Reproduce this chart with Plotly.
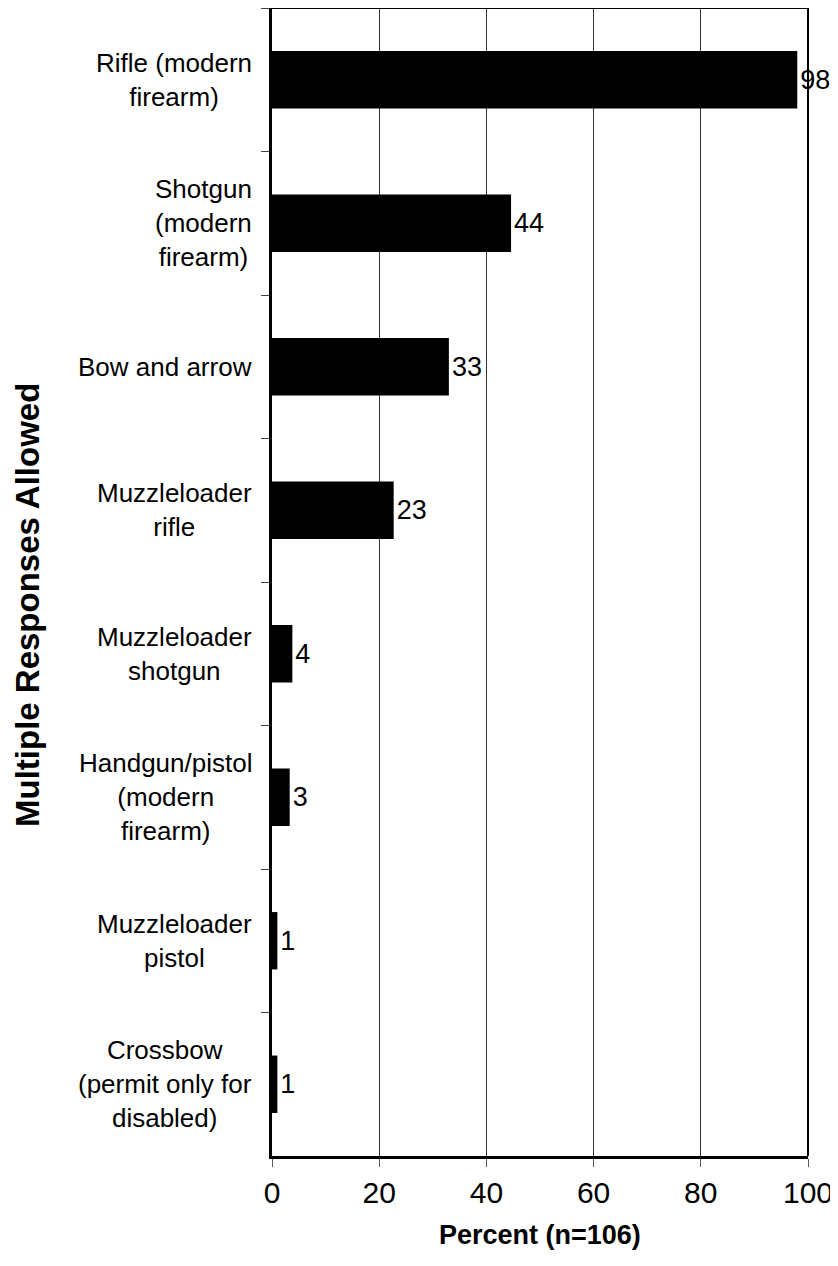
import plotly.graph_objects as go

categories = [
    "Rifle (modern<br>firearm)",
    "Shotgun<br>(modern<br>firearm)",
    "Bow and arrow",
    "Muzzleloader<br>rifle",
    "Muzzleloader<br>shotgun",
    "Handgun/pistol<br>(modern<br>firearm)",
    "Muzzleloader<br>pistol",
    "Crossbow<br>(permit only for<br>disabled)",
]
values = [98, 44.6, 33, 22.7, 3.8, 3.3, 1, 1]
value_labels = ["98", "44", "33", "23", "4", "3", "1", "1"]
x_ticks = [0, 20, 40, 60, 80, 100]
x_title = "Percent (n=106)"
y_title = "Multiple Responses Allowed"

FONT = "Liberation Sans, Arial, sans-serif"

# figure is placed inside the page body (8px default margin)
W, H = 830, 1258
L, R, T, B = 264, 30, 0, 110
plot_w = W - L - R
plot_h = H - T - B

fig = go.Figure()
fig.add_trace(go.Bar(
    x=values,
    y=categories,
    orientation="h",
    marker=dict(color="black", line=dict(width=0)),
    width=0.4,
    text=value_labels,
    textposition="outside",
    textfont=dict(family=FONT, size=27, color="black"),
    cliponaxis=False,
))

for c in categories:
    fig.add_annotation(
        x=0, xref="paper", y=c, yref="y",
        text=c, showarrow=False,
        xanchor="right", yanchor="middle", align="center",
        xshift=-18,
        font=dict(family=FONT, size=26, color="black"),
    )

# y-axis title
fig.add_annotation(
    x=(19 - L) / plot_w, xref="paper", y=1 - 597 / plot_h, yref="paper",
    text="<b>" + y_title + "</b>", showarrow=False, textangle=-90,
    xanchor="center", yanchor="middle",
    font=dict(family=FONT, size=33, color="black"),
)
# x-axis title
fig.add_annotation(
    x=0.5, xref="paper", y=-(1227 - plot_h) / plot_h, yref="paper",
    text="<b>" + x_title + "</b>", showarrow=False,
    xanchor="center", yanchor="middle",
    font=dict(family=FONT, size=27, color="black"),
)

# frame: top and right border
fig.add_shape(type="line", xref="paper", yref="paper", x0=0, x1=1, y0=1, y1=1,
              line=dict(color="black", width=2))
fig.add_shape(type="line", xref="paper", yref="paper", x0=1, x1=1, y0=0, y1=1,
              line=dict(color="black", width=2))

fig.update_layout(
    width=W, height=H,
    margin=dict(l=L, r=R, t=T, b=B, autoexpand=False),
    plot_bgcolor="white", paper_bgcolor="white",
    showlegend=False,
    font=dict(family=FONT, color="black"),
    xaxis=dict(
        range=[0, 100], tickvals=x_ticks,
        showgrid=True, gridcolor="#333333", gridwidth=1,
        zeroline=False,
        showline=True, linecolor="black", linewidth=2.5,
        ticks="outside", ticklen=8, tickcolor="#555555", tickwidth=1,
        tickfont=dict(family=FONT, size=30, color="black"),
        automargin=False,
    ),
    yaxis=dict(
        categoryorder="array", categoryarray=categories,
        autorange="reversed",
        showticklabels=False,
        showgrid=False, zeroline=False,
        showline=True, linecolor="black", linewidth=2.5,
        ticks="outside", ticklen=8, tickcolor="#444444", tickwidth=1,
        tickson="boundaries",
        automargin=False,
    ),
)

fig.write_html("out.html")
